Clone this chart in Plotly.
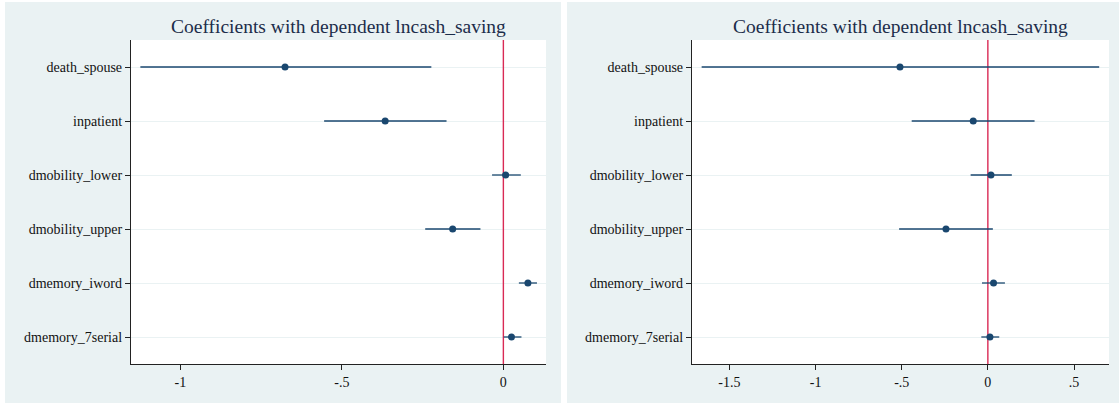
import plotly.graph_objects as go

# Regressors, listed top to bottom
variables = ["death_spouse", "inpatient", "dmobility_lower",
             "dmobility_upper", "dmemory_iword", "dmemory_7serial"]

# Left model: point estimates and confidence bounds
left_coef = [-0.676, -0.366, 0.007, -0.157, 0.076, 0.025]
left_lo = [-1.124, -0.555, -0.035, -0.242, 0.048, 0.001]
left_hi = [-0.223, -0.176, 0.054, -0.071, 0.104, 0.056]

# Right model: point estimates and confidence bounds
right_coef = [-0.510, -0.085, 0.018, -0.243, 0.033, 0.012]
right_lo = [-1.661, -0.442, -0.100, -0.515, -0.034, -0.038]
right_hi = [0.646, 0.271, 0.139, 0.029, 0.099, 0.066]

left_ticks = [-1, -0.5, 0]
left_ticktext = ["-1", "-.5", "0"]
right_ticks = [-1.5, -1, -0.5, 0, 0.5]
right_ticktext = ["-1.5", "-1", "-.5", "0", ".5"]

title_text = "Coefficients with dependent lncash_saving"

W, H = 1119, 404
NAVY = "#1a476f"
BG = "#eaf2f3"
ZERO = "#d92a55"
SERIF = "Liberation Serif, Times New Roman, serif"

def px_x(v):
    return v / W

def px_y(v):
    return 1 - v / H

rows = list(range(len(variables)))

fig = go.Figure()

def add_model(coef, lo, hi, xa, ya):
    # Vertical reference line at zero, under the estimates
    fig.add_trace(go.Scatter(
        x=[0, 0], y=[-0.5, len(variables) - 0.5], mode="lines",
        line=dict(color=ZERO, width=1.4), xaxis=xa, yaxis=ya,
        showlegend=False, hoverinfo="skip",
    ))
    fig.add_trace(go.Scatter(
        x=coef, y=rows, mode="markers",
        marker=dict(color=NAVY, size=7),
        error_x=dict(type="data", symmetric=False,
                     array=[h - c for h, c in zip(hi, coef)],
                     arrayminus=[c - l for c, l in zip(coef, lo)],
                     color=NAVY, thickness=1.3, width=0),
        xaxis=xa, yaxis=ya, showlegend=False, hoverinfo="x+y",
    ))

add_model(left_coef, left_lo, left_hi, "x", "y")
add_model(right_coef, right_lo, right_hi, "x2", "y2")

# Plot-area extents in pixels
left_plot = (131, 546)
right_plot = (692, 1109)
plot_top, plot_bottom = 40, 364

axis_common = dict(
    showline=True, linecolor="#222222", linewidth=1.3,
    ticks="outside", ticklen=5, tickcolor="#222222", tickwidth=1,
    tickfont=dict(family=SERIF, size=14, color="#111111"),
    zeroline=False,
)

yaxis_common = dict(
    axis_common,
    tickvals=rows, ticktext=variables, range=[5.5, -0.5],
    showgrid=True, gridcolor=BG, gridwidth=1.2,
    domain=[px_y(plot_bottom), px_y(plot_top)],
)

fig.update_layout(
    width=W, height=H,
    margin=dict(l=0, r=0, t=0, b=0),
    paper_bgcolor="white", plot_bgcolor="white",
    xaxis=dict(axis_common, domain=[px_x(left_plot[0]), px_x(left_plot[1])],
               range=[-1.153, 0.132], tickvals=left_ticks,
               ticktext=left_ticktext, showgrid=False, anchor="y"),
    yaxis=dict(yaxis_common, anchor="x"),
    xaxis2=dict(axis_common, domain=[px_x(right_plot[0]), px_x(right_plot[1])],
                range=[-1.717, 0.703], tickvals=right_ticks,
                ticktext=right_ticktext, showgrid=False, anchor="y2"),
    yaxis2=dict(yaxis_common, anchor="x2"),
)

shapes = []
# Panel backgrounds
for x0, x1 in [(5, 561), (567, 1119)]:
    shapes.append(dict(type="rect", xref="paper", yref="paper",
                       x0=px_x(x0), x1=px_x(x1), y0=px_y(403), y1=px_y(2),
                       fillcolor=BG, line=dict(width=0), layer="below"))
# White plot areas
for x0, x1 in [left_plot, right_plot]:
    shapes.append(dict(type="rect", xref="paper", yref="paper",
                       x0=px_x(x0), x1=px_x(x1),
                       y0=px_y(plot_bottom), y1=px_y(plot_top),
                       fillcolor="white", line=dict(width=0), layer="below"))
fig.update_layout(shapes=shapes)

for x0, x1 in [left_plot, right_plot]:
    fig.add_annotation(
        text=title_text, xref="paper", yref="paper",
        x=px_x((x0 + x1) / 2), y=px_y(26), xanchor="center", yanchor="middle",
        showarrow=False, font=dict(family=SERIF, size=19.5, color="#1c2d4a"),
    )

fig.write_html("out.html")
